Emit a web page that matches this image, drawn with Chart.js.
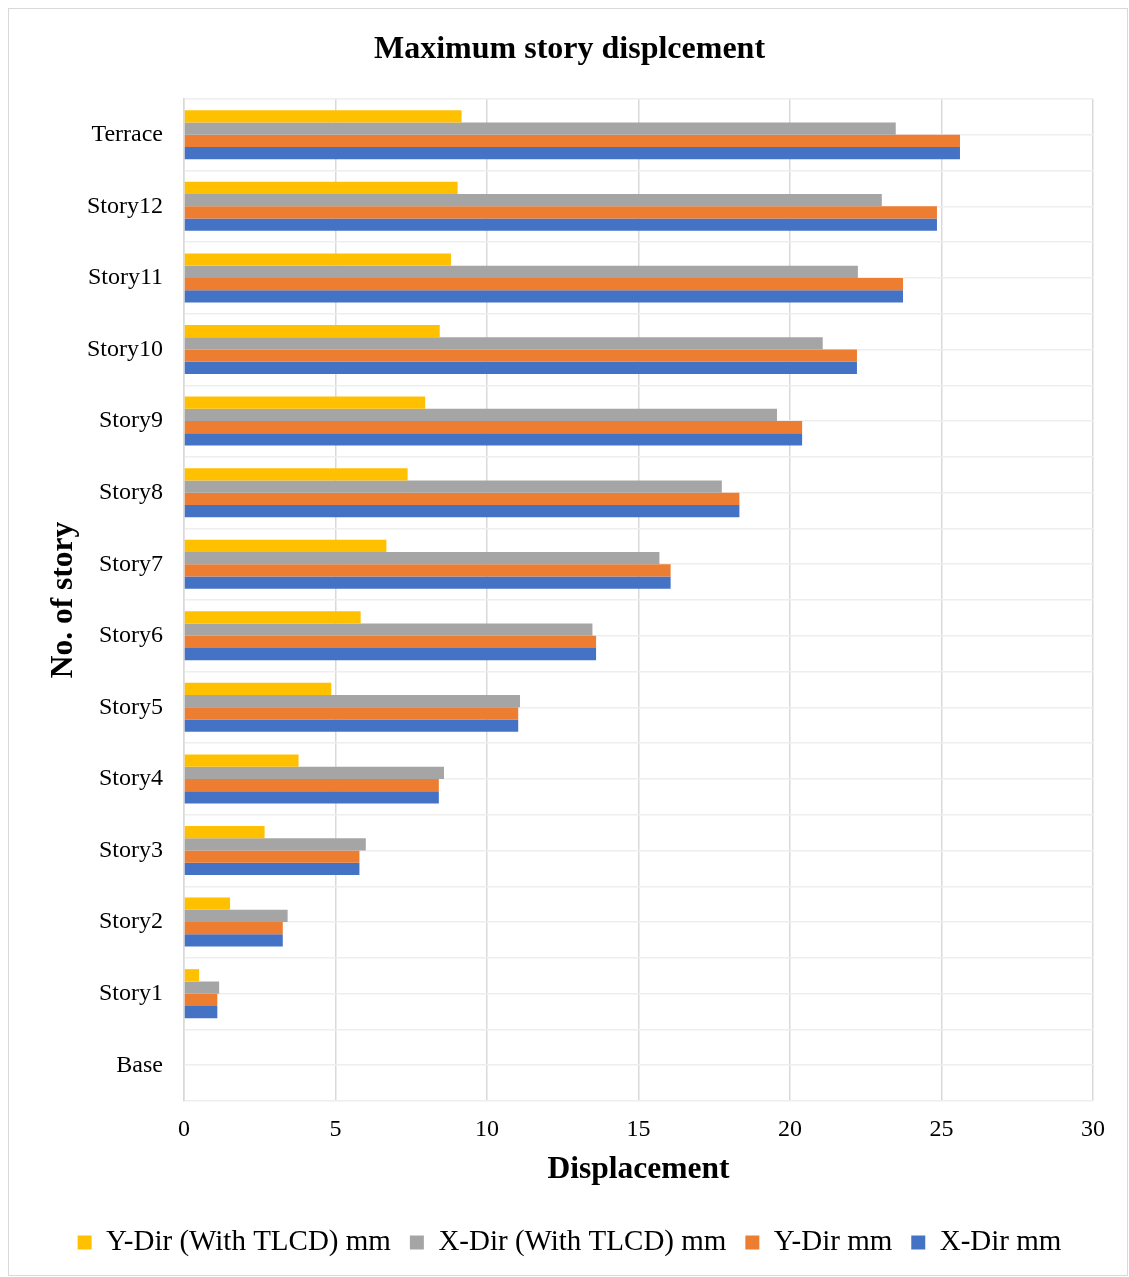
<!DOCTYPE html>
<html>
<head>
<meta charset="utf-8">
<script src="https://cdn.jsdelivr.net/npm/chart.js@4"></script>
<style>
  html, body { margin: 0; padding: 0; background: #ffffff; }
  #frame { position: absolute; left: 8px; top: 8px; width: 1120px; height: 1268px; box-sizing: border-box; border: 1.5px solid #d9d9d9; pointer-events: none; }
  #wrap { position: absolute; left: 10px; top: 0px; width: 1119px; height: 1277px; }
</style>
</head>
<body>
<div id="wrap"><canvas id="c" width="1119" height="1277"></canvas></div>
<div id="frame"></div>
<script>
const categories = ['Terrace', 'Story12', 'Story11', 'Story10', 'Story9', 'Story8', 'Story7', 'Story6', 'Story5', 'Story4', 'Story3', 'Story2', 'Story1', 'Base'];
const yDirTLCD = [9.16, 9.03, 8.81, 8.44, 7.96, 7.38, 6.68, 5.83, 4.86, 3.78, 2.66, 1.52, 0.50, 0];
const xDirTLCD = [23.49, 23.03, 22.24, 21.08, 19.57, 17.75, 15.69, 13.48, 11.09, 8.58, 6.00, 3.42, 1.16, 0];
const yDir = [25.61, 24.85, 23.73, 22.21, 20.40, 18.33, 16.06, 13.60, 11.03, 8.41, 5.79, 3.26, 1.10, 0];
const xDir = [25.61, 24.85, 23.73, 22.21, 20.40, 18.33, 16.06, 13.60, 11.03, 8.41, 5.79, 3.26, 1.10, 0];
const xTicks = [0, 5, 10, 15, 20, 25, 30];
const seriesNames = ['Y-Dir (With TLCD) mm', 'X-Dir (With TLCD) mm', 'Y-Dir mm', 'X-Dir mm'];

const SERIF = "'Times New Roman', 'Liberation Serif', serif";

new Chart(document.getElementById('c'), {
  type: 'bar',
  data: {
    labels: categories,
    datasets: [
      { label: seriesNames[0], data: yDirTLCD, backgroundColor: '#FFC000', yAxisID: 'y' },
      { label: seriesNames[1], data: xDirTLCD, backgroundColor: '#A5A5A5', yAxisID: 'y' },
      { label: seriesNames[2], data: yDir, backgroundColor: '#ED7D31', yAxisID: 'y' },
      { label: seriesNames[3], data: xDir, backgroundColor: '#4472C4', yAxisID: 'y' }
    ]
  },
  options: {
    indexAxis: 'y',
    responsive: false,
    animation: false,
    categoryPercentage: 0.685,
    barPercentage: 1.0,
    layout: { padding: { left: 0, right: 0, top: 0, bottom: 10 } },
    plugins: {
      title: {
        display: true,
        text: 'Maximum story displcement',
        color: '#000000',
        font: { family: SERIF, size: 32, weight: 'bold' },
        padding: { top: 31, bottom: 29.6 }
      },
      legend: {
        position: 'bottom',
        labels: {
          color: '#000000',
          font: { family: SERIF, size: 29 },
          boxWidth: 14,
          boxHeight: 14,
          padding: 19
        }
      },
      tooltip: { enabled: false }
    },
    scales: {
      x: {
        type: 'linear',
        min: 0,
        max: 30,
        afterBuildTicks: (s) => { s.ticks = xTicks.map(v => ({ value: v })); },
        afterFit: (s) => { s.height = 108; },
        ticks: { color: '#000000', font: { family: SERIF, size: 24 }, padding: 14 },
        grid: { color: '#d9d9d9', lineWidth: 1.5, drawTicks: false },
        border: { display: false },
        title: {
          display: true,
          text: 'Displacement',
          color: '#000000',
          font: { family: SERIF, size: 31.5, weight: 'bold' },
          padding: { top: 0, bottom: 20 }
        }
      },
      y: {
        type: 'category',
        position: 'left',
        offset: true,
        afterFit: (s) => { s.width = 174; },
        ticks: { color: '#000000', font: { family: SERIF, size: 24 }, padding: 21 },
        grid: { offset: true, color: '#eeeeee', lineWidth: 1.5, drawTicks: false },
        border: { display: true, color: '#d9d9d9', width: 1.5 },
        title: {
          display: true,
          text: 'No. of story',
          color: '#000000',
          font: { family: SERIF, size: 31.5, weight: 'bold' },
          padding: { top: 35, bottom: 0 }
        }
      },
      y2: {
        type: 'category',
        labels: categories,
        position: 'right',
        offset: true,
        afterFit: (s) => { s.width = 36; },
        ticks: { display: false },
        grid: { offset: false, color: '#eeeeee', lineWidth: 1.5, drawTicks: false },
        border: { display: false }
      }
    }
  }
});
</script>
</body>
</html>
